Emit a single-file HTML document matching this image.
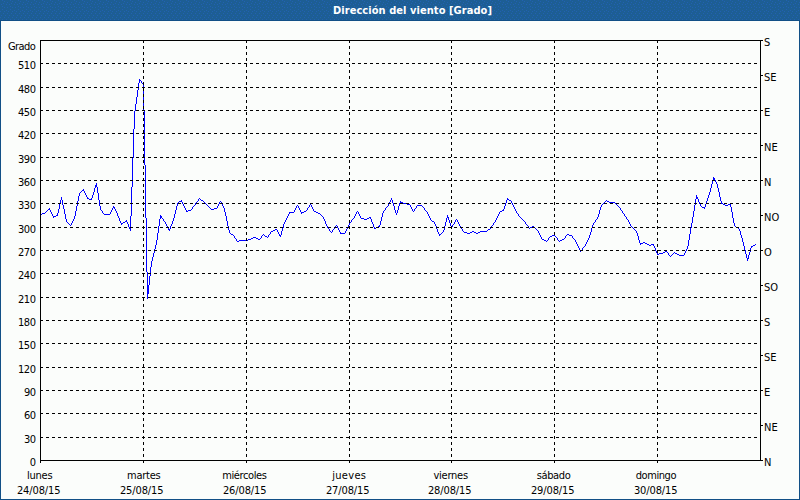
<!DOCTYPE html>
<html><head><meta charset="utf-8"><style>
html,body{margin:0;padding:0;width:800px;height:500px;overflow:hidden;background:#fbfdfb;}
svg{display:block;}
text{font-family:"DejaVu Sans Condensed","Liberation Sans",sans-serif;font-size:11px;fill:#000;}
.t{font-weight:bold;fill:#fff;font-size:11px;}
</style></head><body>
<svg width="800" height="500" viewBox="0 0 800 500">
<rect x="0" y="0" width="800" height="500" fill="#fbfdfb"/>
<defs><pattern id="dz" width="8" height="20" patternUnits="userSpaceOnUse"><rect width="8" height="20" fill="#1d5e94"/><path d="M2 0h1v1h-1zM4 1h1v1h-1zM7 2h1v1h-1zM3 3h1v1h-1zM1 4h1v1h-1zM6 4h1v1h-1zM2 6h1v1h-1zM4 7h1v1h-1zM7 7h1v1h-1zM2 9h1v1h-1zM6 10h1v1h-1zM0 11h1v1h-1zM4 11h1v1h-1zM3 13h1v1h-1zM7 13h1v1h-1zM1 15h1v1h-1zM5 15h1v1h-1zM0 17h1v1h-1zM4 17h1v1h-1zM2 19h1v1h-1zM6 19h1v1h-1z" fill="#2261b2"/></pattern></defs>
<rect x="0" y="0" width="800" height="20" fill="url(#dz)" shape-rendering="crispEdges"/>
<rect x="0" y="20" width="800" height="1" fill="#114f86"/>
<rect x="0" y="20" width="1" height="480" fill="#114f86"/>
<rect x="799" y="20" width="1" height="480" fill="#114f86"/>
<rect x="0" y="499" width="800" height="1" fill="#114f86"/>
<text class="t" x="333" y="14" textLength="159" lengthAdjust="spacing">Dirección del viento [Grado]</text>
<path d="M40 214h1v1h-1zM41 214h1v1h-1zM42 213h1v1h-1zM43 213h1v1h-1zM44 213h1v1h-1zM45 212h1v1h-1zM46 211h1v1h-1zM47 210h1v1h-1zM48 209h1v1h-1zM49 208h1v2h-1zM50 210h1v2h-1zM51 212h1v2h-1zM52 214h1v2h-1zM53 216h1v2h-1zM54 216h1v1h-1zM55 216h1v1h-1zM56 215h1v1h-1zM57 213h1v3h-1zM58 209h1v4h-1zM59 204h1v5h-1zM60 200h1v4h-1zM61 197h1v3h-1zM62 200h1v5h-1zM63 205h1v4h-1zM64 209h1v5h-1zM65 214h1v5h-1zM66 219h1v3h-1zM67 222h1v1h-1zM68 223h1v1h-1zM69 224h1v1h-1zM70 225h1v1h-1zM71 223h1v2h-1zM72 221h1v2h-1zM73 219h1v2h-1zM74 216h1v3h-1zM75 211h1v5h-1zM76 206h1v5h-1zM77 201h1v5h-1zM78 196h1v5h-1zM79 193h1v3h-1zM80 192h1v1h-1zM81 191h1v1h-1zM82 190h1v1h-1zM83 189h1v2h-1zM84 191h1v2h-1zM85 193h1v2h-1zM86 195h1v2h-1zM87 197h1v2h-1zM88 198h1v1h-1zM89 199h1v1h-1zM90 199h1v1h-1zM91 198h1v2h-1zM92 195h1v3h-1zM93 192h1v3h-1zM94 188h1v4h-1zM95 185h1v3h-1zM96 183h1v4h-1zM97 187h1v6h-1zM98 193h1v7h-1zM99 200h1v6h-1zM100 206h1v4h-1zM101 210h1v1h-1zM102 211h1v2h-1zM103 213h1v1h-1zM104 214h1v1h-1zM105 214h1v1h-1zM106 214h1v1h-1zM107 214h1v1h-1zM108 214h1v1h-1zM109 214h1v1h-1zM110 212h1v2h-1zM111 210h1v2h-1zM112 208h1v2h-1zM113 206h1v2h-1zM114 207h1v2h-1zM115 209h1v2h-1zM116 211h1v2h-1zM117 213h1v3h-1zM118 216h1v2h-1zM119 218h1v3h-1zM120 221h1v2h-1zM121 223h1v2h-1zM122 223h1v1h-1zM123 222h1v1h-1zM124 222h1v1h-1zM125 221h1v1h-1zM126 220h1v2h-1zM127 222h1v2h-1zM128 224h1v3h-1zM129 227h1v2h-1zM130 216h1v15h-1zM131 187h1v29h-1zM132 158h1v29h-1zM133 129h1v29h-1zM134 111h1v18h-1zM135 104h1v7h-1zM136 97h1v7h-1zM137 90h1v7h-1zM138 83h1v7h-1zM139 79h1v4h-1zM140 80h1v1h-1zM141 81h1v2h-1zM142 83h1v1h-1zM143 84h1v27h-1zM144 111h1v54h-1zM145 165h1v53h-1zM146 218h1v54h-1zM147 272h1v27h-1zM148 285h1v9h-1zM149 276h1v9h-1zM150 267h1v9h-1zM151 261h1v6h-1zM152 257h1v4h-1zM153 253h1v4h-1zM154 249h1v4h-1zM155 245h1v4h-1zM156 240h1v5h-1zM157 233h1v7h-1zM158 226h1v7h-1zM159 219h1v7h-1zM160 215h1v4h-1zM161 216h1v2h-1zM162 218h1v1h-1zM163 219h1v2h-1zM164 221h1v1h-1zM165 222h1v2h-1zM166 224h1v2h-1zM167 226h1v2h-1zM168 228h1v2h-1zM169 229h1v2h-1zM170 226h1v3h-1zM171 224h1v2h-1zM172 221h1v3h-1zM173 218h1v3h-1zM174 214h1v4h-1zM175 210h1v4h-1zM176 206h1v4h-1zM177 203h1v3h-1zM178 202h1v1h-1zM179 201h1v1h-1zM180 201h1v1h-1zM181 200h1v2h-1zM182 202h1v2h-1zM183 204h1v2h-1zM184 206h1v2h-1zM185 208h1v2h-1zM186 210h1v2h-1zM187 211h1v1h-1zM188 210h1v1h-1zM189 210h1v1h-1zM190 210h1v1h-1zM191 209h1v1h-1zM192 207h1v2h-1zM193 206h1v1h-1zM194 205h1v1h-1zM195 203h1v2h-1zM196 202h1v1h-1zM197 201h1v1h-1zM198 199h1v2h-1zM199 198h1v1h-1zM200 199h1v1h-1zM201 200h1v1h-1zM202 200h1v1h-1zM203 201h1v1h-1zM204 202h1v1h-1zM205 203h1v1h-1zM206 204h1v1h-1zM207 205h1v1h-1zM208 206h1v1h-1zM209 207h1v1h-1zM210 208h1v1h-1zM211 209h1v1h-1zM212 209h1v1h-1zM213 209h1v1h-1zM214 208h1v1h-1zM215 208h1v1h-1zM216 208h1v1h-1zM217 206h1v2h-1zM218 204h1v2h-1zM219 202h1v2h-1zM220 201h1v1h-1zM221 202h1v2h-1zM222 204h1v2h-1zM223 206h1v2h-1zM224 208h1v4h-1zM225 212h1v4h-1zM226 216h1v5h-1zM227 221h1v5h-1zM228 226h1v4h-1zM229 230h1v3h-1zM230 233h1v1h-1zM231 234h1v1h-1zM232 234h1v1h-1zM233 235h1v1h-1zM234 236h1v2h-1zM235 238h1v1h-1zM236 239h1v2h-1zM237 241h1v1h-1zM238 241h1v1h-1zM239 240h1v1h-1zM240 240h1v1h-1zM241 240h1v1h-1zM242 240h1v1h-1zM243 240h1v1h-1zM244 240h1v1h-1zM245 240h1v1h-1zM246 240h1v1h-1zM247 240h1v1h-1zM248 239h1v1h-1zM249 239h1v1h-1zM250 239h1v1h-1zM251 238h1v1h-1zM252 238h1v1h-1zM253 237h1v1h-1zM254 237h1v1h-1zM255 237h1v1h-1zM256 238h1v1h-1zM257 238h1v1h-1zM258 239h1v1h-1zM259 239h1v1h-1zM260 238h1v1h-1zM261 236h1v2h-1zM262 235h1v1h-1zM263 234h1v1h-1zM264 235h1v1h-1zM265 236h1v1h-1zM266 236h1v1h-1zM267 237h1v1h-1zM268 235h1v2h-1zM269 234h1v1h-1zM270 232h1v2h-1zM271 231h1v1h-1zM272 231h1v1h-1zM273 230h1v1h-1zM274 230h1v1h-1zM275 229h1v1h-1zM276 229h1v1h-1zM277 230h1v2h-1zM278 232h1v2h-1zM279 234h1v2h-1zM280 235h1v2h-1zM281 231h1v4h-1zM282 228h1v3h-1zM283 224h1v4h-1zM284 222h1v2h-1zM285 220h1v2h-1zM286 218h1v2h-1zM287 216h1v2h-1zM288 214h1v2h-1zM289 212h1v2h-1zM290 212h1v1h-1zM291 212h1v1h-1zM292 212h1v1h-1zM293 212h1v1h-1zM294 210h1v2h-1zM295 208h1v2h-1zM296 206h1v2h-1zM297 205h1v1h-1zM298 206h1v2h-1zM299 208h1v2h-1zM300 210h1v2h-1zM301 212h1v2h-1zM302 212h1v1h-1zM303 212h1v1h-1zM304 211h1v1h-1zM305 211h1v1h-1zM306 210h1v1h-1zM307 208h1v2h-1zM308 207h1v1h-1zM309 205h1v2h-1zM310 204h1v1h-1zM311 205h1v2h-1zM312 207h1v2h-1zM313 209h1v2h-1zM314 211h1v1h-1zM315 211h1v1h-1zM316 212h1v1h-1zM317 212h1v1h-1zM318 213h1v1h-1zM319 213h1v1h-1zM320 214h1v1h-1zM321 215h1v1h-1zM322 216h1v1h-1zM323 217h1v2h-1zM324 219h1v2h-1zM325 221h1v3h-1zM326 224h1v2h-1zM327 226h1v2h-1zM328 228h1v1h-1zM329 229h1v2h-1zM330 231h1v1h-1zM331 232h1v1h-1zM332 230h1v2h-1zM333 229h1v1h-1zM334 228h1v1h-1zM335 226h1v2h-1zM336 225h1v1h-1zM337 226h1v2h-1zM338 228h1v2h-1zM339 230h1v2h-1zM340 232h1v2h-1zM341 233h1v1h-1zM342 233h1v1h-1zM343 233h1v1h-1zM344 233h1v1h-1zM345 231h1v2h-1zM346 229h1v2h-1zM347 227h1v2h-1zM348 225h1v2h-1zM349 223h1v2h-1zM350 222h1v1h-1zM351 220h1v2h-1zM352 219h1v1h-1zM353 218h1v1h-1zM354 216h1v2h-1zM355 214h1v2h-1zM356 212h1v2h-1zM357 211h1v1h-1zM358 212h1v2h-1zM359 214h1v2h-1zM360 216h1v2h-1zM361 218h1v1h-1zM362 218h1v1h-1zM363 218h1v1h-1zM364 219h1v1h-1zM365 219h1v1h-1zM366 219h1v1h-1zM367 218h1v1h-1zM368 218h1v1h-1zM369 217h1v1h-1zM370 217h1v2h-1zM371 219h1v3h-1zM372 222h1v2h-1zM373 224h1v3h-1zM374 227h1v2h-1zM375 228h1v1h-1zM376 227h1v1h-1zM377 227h1v1h-1zM378 226h1v1h-1zM379 225h1v2h-1zM380 221h1v4h-1zM381 217h1v4h-1zM382 213h1v4h-1zM383 211h1v2h-1zM384 210h1v1h-1zM385 208h1v2h-1zM386 207h1v1h-1zM387 206h1v1h-1zM388 204h1v2h-1zM389 202h1v2h-1zM390 200h1v2h-1zM391 198h1v2h-1zM392 200h1v3h-1zM393 203h1v3h-1zM394 206h1v4h-1zM395 210h1v3h-1zM396 213h1v2h-1zM397 210h1v3h-1zM398 206h1v4h-1zM399 203h1v3h-1zM400 201h1v2h-1zM401 202h1v1h-1zM402 202h1v1h-1zM403 203h1v1h-1zM404 203h1v1h-1zM405 203h1v1h-1zM406 203h1v1h-1zM407 204h1v1h-1zM408 204h1v1h-1zM409 204h1v1h-1zM410 205h1v2h-1zM411 207h1v2h-1zM412 209h1v2h-1zM413 211h1v1h-1zM414 209h1v2h-1zM415 208h1v1h-1zM416 206h1v2h-1zM417 205h1v1h-1zM418 205h1v1h-1zM419 205h1v1h-1zM420 205h1v1h-1zM421 205h1v1h-1zM422 206h1v1h-1zM423 207h1v1h-1zM424 208h1v2h-1zM425 210h1v1h-1zM426 211h1v1h-1zM427 212h1v2h-1zM428 214h1v2h-1zM429 216h1v2h-1zM430 218h1v2h-1zM431 220h1v1h-1zM432 221h1v1h-1zM433 221h1v1h-1zM434 222h1v2h-1zM435 224h1v2h-1zM436 226h1v3h-1zM437 229h1v3h-1zM438 232h1v2h-1zM439 234h1v2h-1zM440 234h1v1h-1zM441 233h1v1h-1zM442 232h1v1h-1zM443 230h1v2h-1zM444 226h1v4h-1zM445 222h1v4h-1zM446 218h1v4h-1zM447 215h1v3h-1zM448 217h1v3h-1zM449 220h1v3h-1zM450 223h1v3h-1zM451 226h1v2h-1zM452 225h1v2h-1zM453 224h1v1h-1zM454 222h1v2h-1zM455 220h1v2h-1zM456 219h1v1h-1zM457 220h1v2h-1zM458 222h1v2h-1zM459 224h1v2h-1zM460 226h1v2h-1zM461 228h1v1h-1zM462 229h1v2h-1zM463 231h1v1h-1zM464 232h1v1h-1zM465 232h1v1h-1zM466 232h1v1h-1zM467 233h1v1h-1zM468 233h1v1h-1zM469 233h1v1h-1zM470 232h1v1h-1zM471 232h1v1h-1zM472 231h1v1h-1zM473 231h1v1h-1zM474 232h1v1h-1zM475 232h1v1h-1zM476 233h1v1h-1zM477 233h1v1h-1zM478 232h1v1h-1zM479 232h1v1h-1zM480 231h1v1h-1zM481 231h1v1h-1zM482 231h1v1h-1zM483 231h1v1h-1zM484 231h1v1h-1zM485 231h1v1h-1zM486 231h1v1h-1zM487 230h1v1h-1zM488 229h1v1h-1zM489 229h1v1h-1zM490 228h1v1h-1zM491 226h1v2h-1zM492 225h1v1h-1zM493 223h1v2h-1zM494 222h1v1h-1zM495 220h1v2h-1zM496 218h1v2h-1zM497 216h1v2h-1zM498 214h1v2h-1zM499 212h1v2h-1zM500 211h1v1h-1zM501 211h1v1h-1zM502 210h1v1h-1zM503 209h1v2h-1zM504 206h1v3h-1zM505 203h1v3h-1zM506 200h1v3h-1zM507 198h1v2h-1zM508 199h1v1h-1zM509 200h1v1h-1zM510 200h1v1h-1zM511 201h1v2h-1zM512 203h1v2h-1zM513 205h1v2h-1zM514 207h1v2h-1zM515 209h1v2h-1zM516 211h1v2h-1zM517 213h1v1h-1zM518 214h1v2h-1zM519 216h1v1h-1zM520 217h1v1h-1zM521 218h1v1h-1zM522 219h1v1h-1zM523 220h1v1h-1zM524 221h1v1h-1zM525 222h1v2h-1zM526 224h1v1h-1zM527 225h1v1h-1zM528 226h1v2h-1zM529 228h1v1h-1zM530 227h1v1h-1zM531 227h1v1h-1zM532 226h1v1h-1zM533 226h1v1h-1zM534 227h1v1h-1zM535 228h1v1h-1zM536 229h1v1h-1zM537 230h1v1h-1zM538 231h1v2h-1zM539 233h1v2h-1zM540 235h1v2h-1zM541 237h1v2h-1zM542 239h1v1h-1zM543 239h1v1h-1zM544 240h1v1h-1zM545 240h1v1h-1zM546 241h1v1h-1zM547 240h1v1h-1zM548 238h1v2h-1zM549 237h1v1h-1zM550 236h1v1h-1zM551 236h1v1h-1zM552 235h1v1h-1zM553 235h1v1h-1zM554 235h1v1h-1zM555 236h1v1h-1zM556 237h1v1h-1zM557 238h1v2h-1zM558 240h1v1h-1zM559 241h1v1h-1zM560 240h1v1h-1zM561 240h1v1h-1zM562 239h1v1h-1zM563 239h1v1h-1zM564 238h1v1h-1zM565 236h1v2h-1zM566 235h1v1h-1zM567 234h1v1h-1zM568 234h1v1h-1zM569 235h1v1h-1zM570 235h1v1h-1zM571 235h1v1h-1zM572 236h1v2h-1zM573 238h1v1h-1zM574 239h1v1h-1zM575 240h1v2h-1zM576 242h1v2h-1zM577 244h1v2h-1zM578 246h1v2h-1zM579 248h1v2h-1zM580 250h1v2h-1zM581 250h1v1h-1zM582 248h1v2h-1zM583 247h1v1h-1zM584 246h1v1h-1zM585 244h1v2h-1zM586 242h1v2h-1zM587 240h1v2h-1zM588 238h1v2h-1zM589 235h1v3h-1zM590 232h1v3h-1zM591 228h1v4h-1zM592 225h1v3h-1zM593 223h1v2h-1zM594 222h1v1h-1zM595 220h1v2h-1zM596 219h1v1h-1zM597 217h1v2h-1zM598 214h1v3h-1zM599 210h1v4h-1zM600 207h1v3h-1zM601 205h1v2h-1zM602 204h1v1h-1zM603 203h1v1h-1zM604 202h1v1h-1zM605 201h1v1h-1zM606 200h1v1h-1zM607 201h1v1h-1zM608 201h1v1h-1zM609 202h1v1h-1zM610 202h1v1h-1zM611 202h1v1h-1zM612 202h1v1h-1zM613 202h1v1h-1zM614 202h1v1h-1zM615 203h1v1h-1zM616 204h1v1h-1zM617 205h1v1h-1zM618 206h1v1h-1zM619 207h1v1h-1zM620 208h1v2h-1zM621 210h1v1h-1zM622 211h1v2h-1zM623 213h1v1h-1zM624 214h1v2h-1zM625 216h1v1h-1zM626 217h1v2h-1zM627 219h1v1h-1zM628 220h1v2h-1zM629 222h1v2h-1zM630 224h1v2h-1zM631 226h1v1h-1zM632 227h1v1h-1zM633 228h1v1h-1zM634 229h1v1h-1zM635 230h1v1h-1zM636 231h1v2h-1zM637 233h1v3h-1zM638 236h1v4h-1zM639 240h1v3h-1zM640 243h1v2h-1zM641 243h1v1h-1zM642 243h1v1h-1zM643 242h1v1h-1zM644 242h1v1h-1zM645 243h1v1h-1zM646 243h1v1h-1zM647 244h1v1h-1zM648 244h1v1h-1zM649 245h1v1h-1zM650 245h1v1h-1zM651 244h1v1h-1zM652 244h1v1h-1zM653 244h1v2h-1zM654 246h1v2h-1zM655 248h1v3h-1zM656 251h1v2h-1zM657 253h1v2h-1zM658 254h1v1h-1zM659 253h1v1h-1zM660 253h1v1h-1zM661 253h1v1h-1zM662 253h1v1h-1zM663 252h1v1h-1zM664 252h1v1h-1zM665 251h1v1h-1zM666 251h1v1h-1zM667 252h1v1h-1zM668 253h1v2h-1zM669 255h1v1h-1zM670 256h1v1h-1zM671 255h1v1h-1zM672 254h1v1h-1zM673 253h1v1h-1zM674 252h1v1h-1zM675 253h1v1h-1zM676 253h1v1h-1zM677 254h1v1h-1zM678 254h1v1h-1zM679 255h1v1h-1zM680 255h1v1h-1zM681 255h1v1h-1zM682 255h1v1h-1zM683 255h1v1h-1zM684 253h1v2h-1zM685 251h1v2h-1zM686 249h1v2h-1zM687 246h1v3h-1zM688 240h1v6h-1zM689 234h1v6h-1zM690 228h1v6h-1zM691 223h1v5h-1zM692 217h1v6h-1zM693 211h1v6h-1zM694 205h1v6h-1zM695 199h1v6h-1zM696 195h1v4h-1zM697 197h1v2h-1zM698 199h1v3h-1zM699 202h1v2h-1zM700 204h1v2h-1zM701 206h1v1h-1zM702 207h1v1h-1zM703 207h1v1h-1zM704 207h1v2h-1zM705 204h1v3h-1zM706 201h1v3h-1zM707 198h1v3h-1zM708 195h1v3h-1zM709 192h1v3h-1zM710 188h1v4h-1zM711 184h1v4h-1zM712 180h1v4h-1zM713 177h1v3h-1zM714 178h1v2h-1zM715 180h1v2h-1zM716 182h1v2h-1zM717 184h1v4h-1zM718 188h1v4h-1zM719 192h1v5h-1zM720 197h1v4h-1zM721 201h1v3h-1zM722 203h1v1h-1zM723 204h1v1h-1zM724 204h1v1h-1zM725 205h1v1h-1zM726 205h1v1h-1zM727 205h1v1h-1zM728 204h1v1h-1zM729 204h1v1h-1zM730 204h1v3h-1zM731 207h1v5h-1zM732 212h1v6h-1zM733 218h1v5h-1zM734 223h1v3h-1zM735 226h1v1h-1zM736 227h1v1h-1zM737 227h1v1h-1zM738 228h1v1h-1zM739 229h1v2h-1zM740 231h1v4h-1zM741 235h1v3h-1zM742 238h1v4h-1zM743 242h1v4h-1zM744 246h1v4h-1zM745 250h1v4h-1zM746 254h1v4h-1zM747 258h1v3h-1zM748 255h1v4h-1zM749 252h1v3h-1zM750 248h1v4h-1zM751 246h1v2h-1zM752 246h1v1h-1zM753 245h1v1h-1zM754 245h1v1h-1zM755 244h1v1h-1z" fill="#0000ff" shape-rendering="crispEdges"/>
<path d="M40 437.5H760M40 413.5H760M40 390.5H760M40 367.5H760M40 343.5H760M40 320.5H760M40 297.5H760M40 273.5H760M40 250.5H760M40 227.5H760M40 203.5H760M40 180.5H760M40 157.5H760M40 133.5H760M40 110.5H760M40 87.5H760M40 63.5H760M143.5 40V460M246.5 40V460M349.5 40V460M451.5 40V460M554.5 40V460M657.5 40V460" stroke="#000" stroke-width="1" stroke-dasharray="3 3" fill="none" shape-rendering="crispEdges"/>
<path d="M40.5 40V463M40 460.5H760M40 40.5H763M760.5 40V461M760 460.5H763M143.5 460V463M246.5 460V463M349.5 460V463M451.5 460V463M554.5 460V463M657.5 460V463M760 425.5H763M760 390.5H763M760 355.5H763M760 320.5H763M760 285.5H763M760 250.5H763M760 215.5H763M760 180.5H763M760 145.5H763M760 110.5H763M760 75.5H763" stroke="#000" stroke-width="1" fill="none" shape-rendering="crispEdges"/>
<text x="35.7" y="50" text-anchor="end" textLength="27.8" lengthAdjust="spacing">Grado</text>
<text x="36" y="466" text-anchor="end" textLength="6" lengthAdjust="spacing">0</text>
<text x="36" y="443" text-anchor="end" textLength="12" lengthAdjust="spacing">30</text>
<text x="36" y="419" text-anchor="end" textLength="12" lengthAdjust="spacing">60</text>
<text x="36" y="396" text-anchor="end" textLength="12" lengthAdjust="spacing">90</text>
<text x="36" y="373" text-anchor="end" textLength="18" lengthAdjust="spacing">120</text>
<text x="36" y="349" text-anchor="end" textLength="18" lengthAdjust="spacing">150</text>
<text x="36" y="326" text-anchor="end" textLength="18" lengthAdjust="spacing">180</text>
<text x="36" y="303" text-anchor="end" textLength="18" lengthAdjust="spacing">210</text>
<text x="36" y="279" text-anchor="end" textLength="18" lengthAdjust="spacing">240</text>
<text x="36" y="256" text-anchor="end" textLength="18" lengthAdjust="spacing">270</text>
<text x="36" y="233" text-anchor="end" textLength="18" lengthAdjust="spacing">300</text>
<text x="36" y="209" text-anchor="end" textLength="18" lengthAdjust="spacing">330</text>
<text x="36" y="186" text-anchor="end" textLength="18" lengthAdjust="spacing">360</text>
<text x="36" y="163" text-anchor="end" textLength="18" lengthAdjust="spacing">390</text>
<text x="36" y="139" text-anchor="end" textLength="18" lengthAdjust="spacing">420</text>
<text x="36" y="116" text-anchor="end" textLength="18" lengthAdjust="spacing">450</text>
<text x="36" y="93" text-anchor="end" textLength="18" lengthAdjust="spacing">480</text>
<text x="36" y="69" text-anchor="end" textLength="18" lengthAdjust="spacing">510</text>
<text x="764" y="466">N</text>
<text x="764" y="431">NE</text>
<text x="764" y="396">E</text>
<text x="764" y="361">SE</text>
<text x="764" y="326">S</text>
<text x="764" y="291">SO</text>
<text x="764" y="256">O</text>
<text x="764" y="221">NO</text>
<text x="764" y="186">N</text>
<text x="764" y="151">NE</text>
<text x="764" y="116">E</text>
<text x="764" y="81">SE</text>
<text x="764" y="46">S</text>
<text x="39.80" y="479" text-anchor="middle" textLength="25.7" lengthAdjust="spacing">lunes</text>
<text x="38.75" y="494" text-anchor="middle" textLength="43.6" lengthAdjust="spacing">24/08/15</text>
<text x="143.90" y="479" text-anchor="middle" textLength="33.7" lengthAdjust="spacing">martes</text>
<text x="141.75" y="494" text-anchor="middle" textLength="43.6" lengthAdjust="spacing">25/08/15</text>
<text x="244.55" y="479" text-anchor="middle" textLength="44.7" lengthAdjust="spacing">miércoles</text>
<text x="244.75" y="494" text-anchor="middle" textLength="43.6" lengthAdjust="spacing">26/08/15</text>
<text x="349.10" y="479" text-anchor="middle" textLength="33.85" lengthAdjust="spacing">jueves</text>
<text x="347.75" y="494" text-anchor="middle" textLength="43.6" lengthAdjust="spacing">27/08/15</text>
<text x="450.75" y="479" text-anchor="middle" textLength="34.6" lengthAdjust="spacing">viernes</text>
<text x="449.75" y="494" text-anchor="middle" textLength="43.6" lengthAdjust="spacing">28/08/15</text>
<text x="553.70" y="479" text-anchor="middle" textLength="34.1" lengthAdjust="spacing">sábado</text>
<text x="552.75" y="494" text-anchor="middle" textLength="43.6" lengthAdjust="spacing">29/08/15</text>
<text x="656.10" y="479" text-anchor="middle" textLength="40.7" lengthAdjust="spacing">domingo</text>
<text x="655.75" y="494" text-anchor="middle" textLength="43.6" lengthAdjust="spacing">30/08/15</text>
</svg></body></html>
